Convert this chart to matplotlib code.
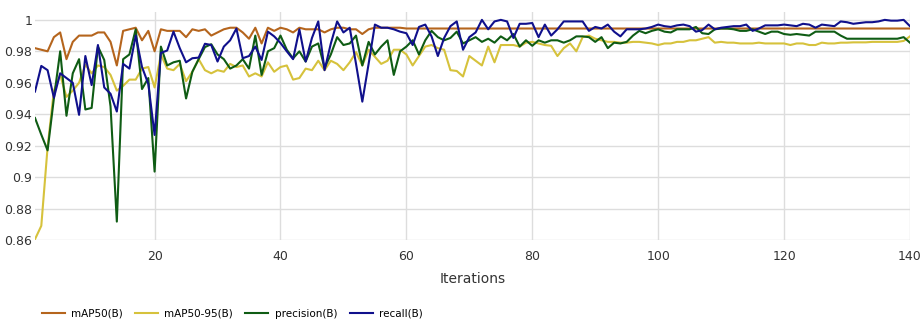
import matplotlib.pyplot as plt
import numpy as np

iterations = np.arange(1, 141)

map50 = [
    0.982, 0.981, 0.980, 0.989, 0.992, 0.975, 0.986, 0.990, 0.990, 0.990,
    0.992, 0.992, 0.986, 0.971, 0.993, 0.994, 0.995, 0.987, 0.993, 0.980,
    0.994, 0.993, 0.993, 0.993, 0.989, 0.994, 0.993, 0.994, 0.990, 0.992,
    0.994, 0.995, 0.995, 0.992, 0.988, 0.995, 0.985, 0.995, 0.993, 0.995,
    0.994, 0.992, 0.995, 0.994, 0.994, 0.994, 0.992, 0.994, 0.995, 0.995,
    0.994, 0.994, 0.991, 0.994, 0.995, 0.995, 0.995, 0.995, 0.995, 0.9945,
    0.9945, 0.9945, 0.9945, 0.9945, 0.9945, 0.9945, 0.9945, 0.9945, 0.9945, 0.9945,
    0.9945, 0.9945, 0.9945, 0.9945, 0.9945, 0.9945, 0.9945, 0.9945, 0.9945, 0.9945,
    0.9945, 0.9945, 0.9945, 0.9945, 0.9945, 0.9945, 0.9945, 0.9945, 0.9945, 0.9945,
    0.9945, 0.9945, 0.9945, 0.9945, 0.9945, 0.9945, 0.9945, 0.9945, 0.9945, 0.9945,
    0.9945, 0.9945, 0.9945, 0.9945, 0.9945, 0.9945, 0.9945, 0.9945, 0.9945, 0.9945,
    0.9945, 0.9945, 0.9945, 0.9945, 0.9945, 0.9945, 0.9945, 0.9945, 0.9945, 0.9945,
    0.9945, 0.9945, 0.9945, 0.9945, 0.9945, 0.9945, 0.9945, 0.9945, 0.9945, 0.9945,
    0.9945, 0.9945, 0.9945, 0.9945, 0.9945, 0.9945, 0.9945, 0.9945, 0.9945, 0.9945,
]

map50_95 = [
    0.8605, 0.869, 0.919, 0.955, 0.965, 0.951, 0.955, 0.960, 0.9715, 0.966,
    0.971, 0.970, 0.965, 0.955, 0.958, 0.962, 0.962, 0.969, 0.970, 0.957,
    0.978, 0.969, 0.968, 0.972, 0.961, 0.967, 0.975, 0.968, 0.966, 0.968,
    0.967, 0.972, 0.970, 0.971, 0.964, 0.966, 0.964, 0.973, 0.967, 0.970,
    0.971, 0.962, 0.963, 0.969, 0.968, 0.974, 0.968, 0.974, 0.972, 0.968,
    0.973, 0.9795, 0.971, 0.981, 0.9765, 0.972, 0.974, 0.981, 0.981, 0.978,
    0.971, 0.977, 0.983, 0.984, 0.982, 0.981, 0.968, 0.9675, 0.964, 0.977,
    0.974, 0.971, 0.983, 0.973, 0.984, 0.984, 0.984, 0.983, 0.9855, 0.986,
    0.985, 0.984, 0.9835, 0.977, 0.982, 0.985, 0.980, 0.989, 0.990, 0.988,
    0.987, 0.986, 0.986, 0.9855, 0.9855, 0.986, 0.986, 0.9855, 0.985, 0.984,
    0.985, 0.985, 0.986, 0.986, 0.987, 0.987, 0.988, 0.989, 0.9855, 0.986,
    0.9855, 0.9855, 0.985, 0.985, 0.985, 0.9855, 0.985, 0.985, 0.985, 0.985,
    0.984, 0.985, 0.985, 0.984, 0.984, 0.9855, 0.985, 0.985, 0.9855, 0.9855,
    0.9857, 0.9857, 0.9857, 0.986, 0.986, 0.986, 0.986, 0.986, 0.9866, 0.9895,
]

precision = [
    0.9376, 0.927, 0.917, 0.950, 0.980, 0.939, 0.966, 0.975, 0.943, 0.944,
    0.983, 0.9745, 0.945, 0.8717, 0.975, 0.978, 0.994, 0.956, 0.963, 0.9035,
    0.983, 0.971, 0.973, 0.974, 0.950, 0.967, 0.975, 0.9827, 0.9845, 0.978,
    0.975, 0.969, 0.971, 0.975, 0.969, 0.990, 0.965, 0.980, 0.982, 0.990,
    0.981, 0.9755, 0.980, 0.9735, 0.983, 0.985, 0.9695, 0.978, 0.989, 0.984,
    0.985, 0.990, 0.971, 0.986, 0.978, 0.983, 0.987, 0.965, 0.980, 0.983,
    0.987, 0.978, 0.987, 0.993, 0.989, 0.987, 0.9885, 0.9925, 0.985, 0.987,
    0.989, 0.986, 0.988, 0.9855, 0.9895, 0.987, 0.991, 0.983, 0.987, 0.9835,
    0.987, 0.9855, 0.987, 0.987, 0.9855, 0.987, 0.9895, 0.9895, 0.989, 0.986,
    0.989, 0.982, 0.9855, 0.985, 0.986, 0.990, 0.993, 0.9915, 0.993, 0.994,
    0.9925, 0.992, 0.994, 0.994, 0.994, 0.9955, 0.9915, 0.991, 0.994, 0.9945,
    0.9945, 0.994, 0.993, 0.993, 0.994, 0.9925, 0.991, 0.9925, 0.9925, 0.991,
    0.9905, 0.991, 0.9905, 0.990, 0.9925, 0.9925, 0.9925, 0.9925, 0.990, 0.988,
    0.988, 0.988, 0.988, 0.988, 0.988, 0.988, 0.988, 0.988, 0.989, 0.9855,
]

recall = [
    0.9544, 0.9707, 0.968, 0.9505, 0.966, 0.963, 0.960, 0.9396, 0.977, 0.9585,
    0.984, 0.957, 0.953, 0.9417, 0.972, 0.969, 0.990, 0.970, 0.9593, 0.9268,
    0.979, 0.9805, 0.9925, 0.982, 0.973, 0.9756, 0.976, 0.9848, 0.984, 0.9735,
    0.983, 0.987, 0.9945, 0.9756, 0.977, 0.983, 0.9745, 0.9925, 0.9895, 0.9853,
    0.980, 0.975, 0.994, 0.9735, 0.9885, 0.999, 0.968, 0.985, 0.999, 0.992,
    0.995, 0.972, 0.948, 0.972, 0.997, 0.995, 0.995, 0.994, 0.9925, 0.9915,
    0.984, 0.9955, 0.997, 0.9895, 0.977, 0.9885, 0.996, 0.999, 0.981, 0.989,
    0.992, 1.0, 0.994, 0.999, 1.0, 0.999, 0.9885, 0.9975, 0.9975, 0.998,
    0.989, 0.997, 0.990, 0.994, 0.999, 0.999, 0.999, 0.999, 0.993, 0.9955,
    0.9945, 0.997, 0.9925, 0.9895, 0.994, 0.994, 0.994, 0.9945, 0.9955, 0.997,
    0.996, 0.9955, 0.9965, 0.997, 0.996, 0.9925, 0.9935, 0.997, 0.994, 0.995,
    0.9955, 0.996, 0.996, 0.997, 0.993, 0.9945, 0.9965, 0.9965, 0.9965, 0.997,
    0.9965, 0.996, 0.9975, 0.997, 0.995, 0.997, 0.9965, 0.996, 0.999, 0.9985,
    0.9975, 0.998, 0.9985, 0.9985, 0.999, 1.0, 0.9995, 0.9995, 1.0, 0.996,
]

series = [
    ('mAP50(B)', map50, '#b5651d'),
    ('mAP50-95(B)', map50_95, '#d6c23c'),
    ('precision(B)', precision, '#0f5c14'),
    ('recall(B)', recall, '#10108c'),
]

fig = plt.figure(figsize=(9.21, 3.2), dpi=100)
ax = fig.add_axes([0.038, 0.25, 0.95, 0.7125])

for name, vals, col in series:
    ax.plot(iterations, vals, color=col, lw=1.5, label=name)

ax.set_xlim(1, 140)
ax.set_ylim(0.86, 1.005)
ax.set_xticks([20, 40, 60, 80, 100, 120, 140])
ax.set_yticks([0.86, 0.88, 0.9, 0.92, 0.94, 0.96, 0.98, 1.0])
ax.yaxis.set_major_formatter(plt.FuncFormatter(lambda v, p: '{:g}'.format(round(v, 2))))
ax.grid(True, color='#dddddd', lw=1)
ax.set_axisbelow(True)
for s in ax.spines.values():
    s.set_visible(False)
ax.tick_params(length=0, labelsize=9, colors='#333333')
ax.tick_params(axis='x', pad=7)
ax.tick_params(axis='y', pad=2)
ax.set_xlabel('Iterations', fontsize=10, color='#333333', labelpad=7)

fig.legend(loc='lower left', bbox_to_anchor=(0.035, -0.025), ncol=4, frameon=False,
           fontsize=7.5, handlelength=2.2, columnspacing=1.2, handletextpad=0.6)

fig.savefig('out.png', dpi=100)
